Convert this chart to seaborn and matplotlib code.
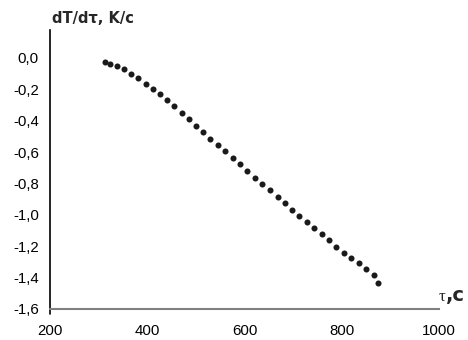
import matplotlib
matplotlib.use("Agg")
import matplotlib.pyplot as plt
import seaborn as sns
import pandas as pd

# data
tau = [313, 323, 338, 352, 367, 382, 397, 412, 427, 440, 455, 472, 485,
       500, 515, 530, 545, 560, 576, 591, 606, 621, 636, 652, 668, 683,
       698, 713, 728, 743, 760, 774, 789, 805, 820, 835, 850, 867, 874]
dTdt = [-0.025, -0.040, -0.053, -0.072, -0.100, -0.129, -0.163, -0.195,
        -0.231, -0.269, -0.305, -0.348, -0.390, -0.431, -0.472, -0.515,
        -0.553, -0.596, -0.638, -0.676, -0.723, -0.763, -0.803, -0.844,
        -0.886, -0.924, -0.967, -1.005, -1.045, -1.083, -1.121, -1.162,
        -1.204, -1.242, -1.274, -1.310, -1.348, -1.384, -1.433]
x_ticks = [200, 400, 600, 800, 1000]
x_labels = ["200", "400", "600", "800", "1000"]
y_ticks = [0.0, -0.2, -0.4, -0.6, -0.8, -1.0, -1.2, -1.4, -1.6]
y_labels = ["0,0", "-0,2", "-0,4", "-0,6", "-0,8", "-1,0", "-1,2", "-1,4", "-1,6"]
y_title = "dT/dτ, K/c"
x_title_sym = "τ"
x_title_unit = ",c"

df = pd.DataFrame({"tau": tau, "dTdt": dTdt})

sns.set_style("white")
plt.rcParams["font.family"] = ["Liberation Sans", "DejaVu Sans"]

W, H = 468, 340
fig = plt.figure(figsize=(W / 100, H / 100), dpi=100)
ax = fig.add_axes([50 / W, (H - 309) / H, (439 - 50) / W, (309 - 30) / H])

sns.scatterplot(data=df, x="tau", y="dTdt", ax=ax, s=19, color="#1a1a1a",
                linewidth=0, legend=False)

ax.set_xlim(200, 1000)
ax.set_ylim(-1.6, 0.178)
ax.set_xticks(x_ticks)
ax.set_xticklabels(x_labels)
ax.set_yticks(y_ticks)
ax.set_yticklabels(y_labels)
ax.set_xlabel("")
ax.set_ylabel("")

for s in ["top", "right"]:
    ax.spines[s].set_visible(False)
ax.spines["left"].set_color("black")
ax.spines["left"].set_linewidth(1.2)
ax.spines["bottom"].set_color("#808080")
ax.spines["bottom"].set_linewidth(1.5)

ax.tick_params(axis="y", direction="out", length=3, width=1, color="black",
               labelsize=10.8, pad=5, labelcolor="black")
ax.tick_params(axis="x", direction="in", length=4, width=1, color="#808080",
               labelsize=10.8, pad=11, labelcolor="black")
ax.grid(False)

# y-axis slightly extended below the x-axis
ax.plot([200, 200], [-1.6, -1.63], color="black", lw=1.2, clip_on=False)

fig.text(52 / W, 1 - 23 / H, y_title, fontsize=10.5, fontweight="bold",
         family=["DejaVu Sans"], ha="left", va="baseline")
fig.text(439 / W, 1 - 301 / H, x_title_sym, fontsize=12,
         family=["Liberation Serif", "DejaVu Serif"], ha="left", va="baseline")
fig.text(446 / W, 1 - 301 / H, x_title_unit, fontsize=14, fontweight="bold",
         family=["DejaVu Sans"], ha="left", va="baseline")

fig.savefig("out.png", dpi=100)
